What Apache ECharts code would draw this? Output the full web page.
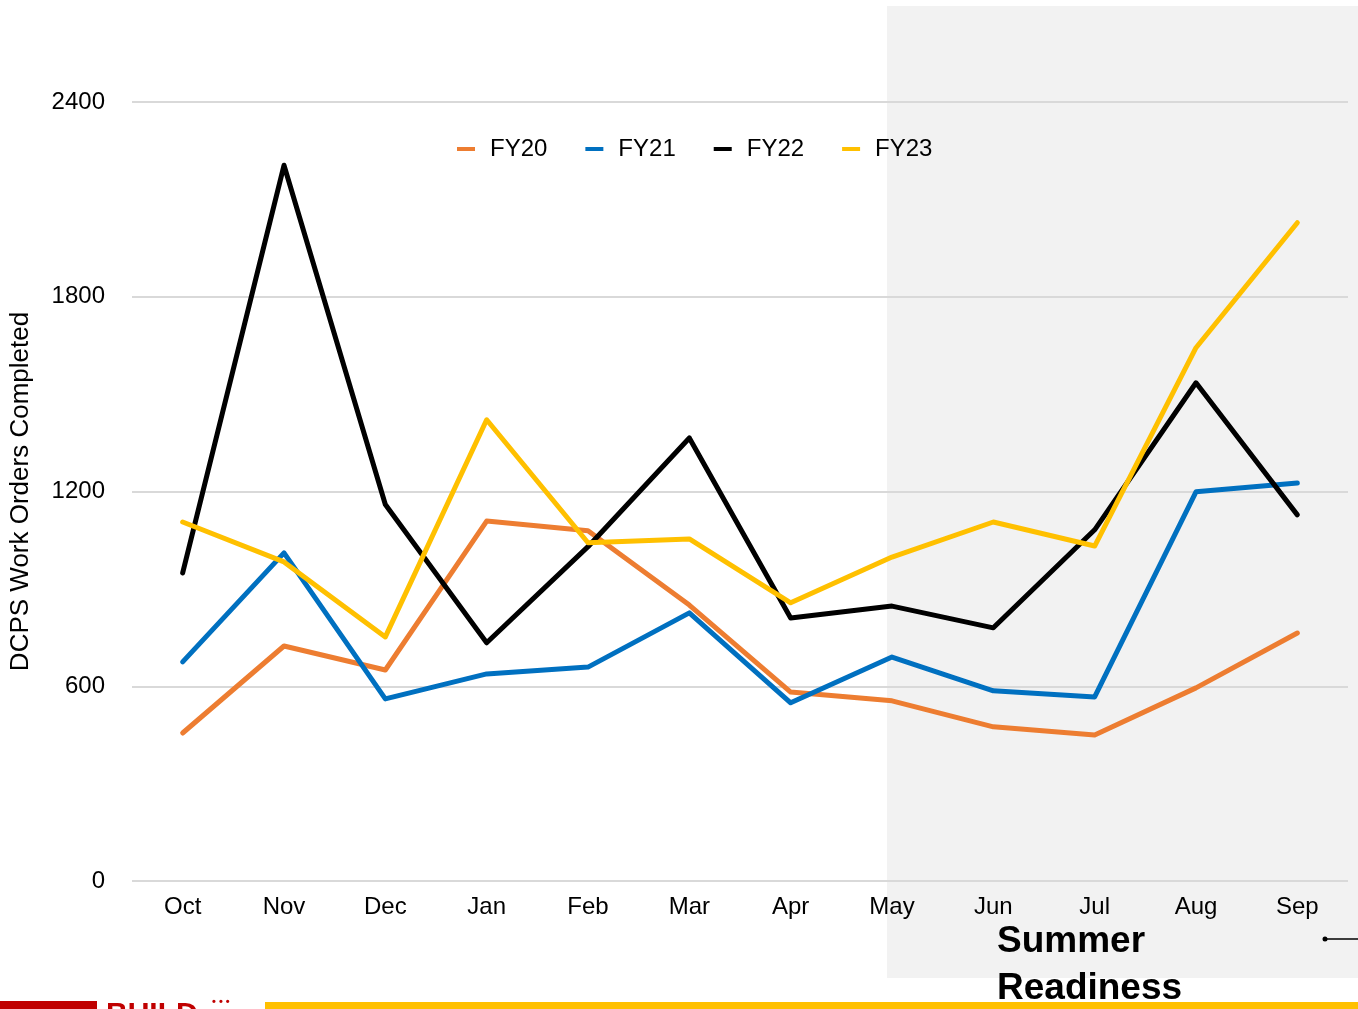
<!DOCTYPE html>
<html>
<head>
<meta charset="utf-8">
<script src="https://cdn.jsdelivr.net/npm/echarts@6/dist/echarts.min.js"></script>
<style>
  html, body { margin: 0; padding: 0; background: #fff; }
  #chart { width: 1358px; height: 1009px; }
</style>
</head>
<body>
<div id="chart"></div>
<script>
// months of the fiscal year
const months = ['Oct', 'Nov', 'Dec', 'Jan', 'Feb', 'Mar', 'Apr', 'May', 'Jun', 'Jul', 'Aug', 'Sep']
const seriesNames = ['FY20', 'FY21', 'FY22', 'FY23']
const fy20 = [456, 724, 650, 1109, 1079, 850, 582, 555, 475, 450, 595, 764]
const fy21 = [675, 1011, 561, 638, 659, 826, 549, 690, 586, 567, 1199, 1226]
const fy22 = [949, 2205, 1160, 734, 1030, 1365, 810, 847, 780, 1082, 1535, 1128]
const fy23 = [1106, 983, 752, 1421, 1042, 1054, 857, 998, 1106, 1032, 1643, 2028]
const yTicks = [0, 600, 1200, 1800, 2400]

const colors = ['#ED7D31', '#0070C0', '#000000', '#FFC000']
const font = '"Liberation Sans", Arial, Helvetica, sans-serif'

let myChart = echarts.init(document.getElementById('chart'))

function mkLine (name, data, i) {
  return {
    name: name,
    type: 'line',
    data: data,
    symbol: 'none',
    z: 5,
    lineStyle: { width: 5, color: colors[i], cap: 'round', join: 'round' },
    itemStyle: { color: colors[i] }
  }
}

myChart.setOption({
  animation: false,
  textStyle: { fontFamily: font },
  color: colors,
  grid: { left: 130, right: 10, top: 102, bottom: 128, containLabel: false },
  legend: {
    data: seriesNames,
    left: 452,
    top: 132,
    icon: 'rect',
    itemWidth: 18,
    itemHeight: 4,
    itemGap: 38,
    textStyle: { fontSize: 24, color: '#000', fontFamily: font, padding: [0, 0, 0, 10] }
  },
  graphic: [
    // summer readiness shading
    { type: 'rect', z: -10, silent: true, shape: { x: 887, y: 6, width: 471, height: 972 }, style: { fill: '#f2f2f2' } },
    { type: 'text', z: 10, left: 997, top: 923, style: { text: 'Summer', font: 'bold 37px ' + font, fill: '#000' } },
    { type: 'text', z: 10, left: 997, top: 970, style: { text: 'Readiness', font: 'bold 37px ' + font, fill: '#000' } },
    { type: 'line', z: 10, shape: { x1: 1325, y1: 939, x2: 1358, y2: 939 }, style: { stroke: '#000', lineWidth: 1.5 } },
    { type: 'circle', z: 10, shape: { cx: 1325, cy: 939, r: 2.5 }, style: { fill: '#000' } },
    // footer strip
    { type: 'rect', z: 10, shape: { x: 0, y: 1001, width: 97, height: 8 }, style: { fill: '#C00000' } },
    { type: 'rect', z: 10, shape: { x: 265, y: 1002, width: 1093, height: 7 }, style: { fill: '#FFC000' } },
    { type: 'text', z: 10, left: 106, top: 1000, style: { text: 'BUILD', font: 'bold 30px ' + font, fill: '#C00000' } },
    { type: 'text', z: 10, left: 212, top: 996, style: { text: '• • •', font: 'bold 11px ' + font, fill: '#C00000' } }
  ],
  xAxis: {
    type: 'category',
    data: months,
    boundaryGap: true,
    axisLine: { show: false },
    axisTick: { show: false },
    axisLabel: { fontSize: 24, color: '#000', margin: 14, fontFamily: font }
  },
  yAxis: {
    type: 'value',
    min: yTicks[0],
    max: yTicks[yTicks.length - 1],
    interval: 600,
    name: 'DCPS Work Orders Completed',
    nameLocation: 'middle',
    nameGap: 98,
    nameTextStyle: { fontSize: 26, color: '#000', fontFamily: font },
    axisLine: { show: false },
    axisTick: { show: false },
    axisLabel: {
      fontSize: 24,
      color: '#000',
      margin: 27,
      fontFamily: font,
      formatter: function (v) { return String(v) }
    },
    splitLine: { lineStyle: { color: '#d9d9d9', width: 2 } }
  },
  series: [
    mkLine(seriesNames[0], fy20, 0),
    mkLine(seriesNames[1], fy21, 1),
    mkLine(seriesNames[2], fy22, 2),
    mkLine(seriesNames[3], fy23, 3)
  ]
})
</script>
</body>
</html>
